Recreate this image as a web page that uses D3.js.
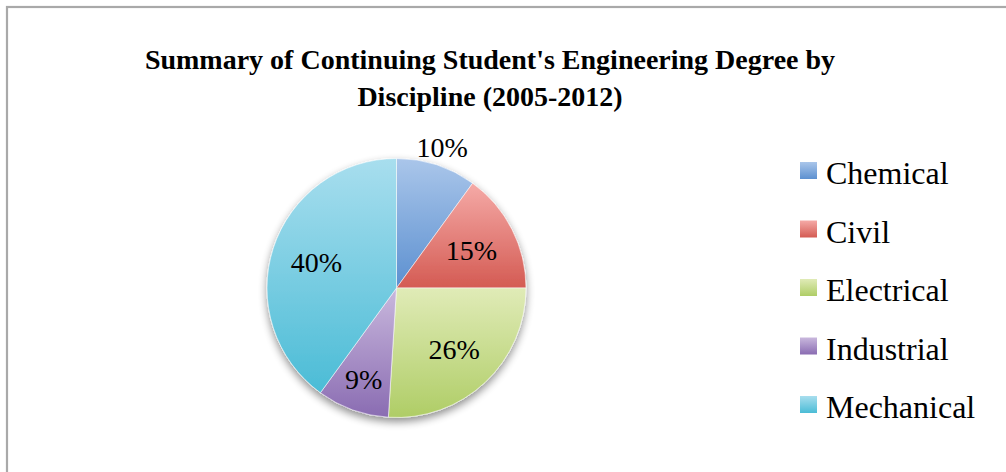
<!DOCTYPE html>
<html>
<head>
<meta charset="utf-8">
<script src="https://cdn.jsdelivr.net/npm/d3@7"></script>
<style>
  body { margin: 0; background: #fff; }
  svg { display: block; }
</style>
</head>
<body>
<svg id="chart" width="1006" height="472"></svg>
<script>
// Share of continuing students by engineering discipline (%)
const categories = ["Chemical", "Civil", "Electrical", "Industrial", "Mechanical"];
const shares = [10, 15, 26, 9, 40];

// Two-stop gradient per discipline: lighter tint at the top, base shade at the bottom
const lightColors = ["#aac6ea", "#f5aaa7", "#e0ebb7", "#c9b8dd", "#a8deee"];
const darkColors  = ["#5c90d0", "#d45b53", "#afcd66", "#8a6cb2", "#4bbcd6"];

const titleLines = ["Summary of Continuing Student's Engineering Degree by", "Discipline (2005-2012)"];

// Labels that sit beyond the rim instead of inside their wedge
const outsideLabels = new Set(["Chemical"]);

const data = categories.map((name, i) => ({ name, value: shares[i], i }));
const total = d3.sum(shares);
const pct = d3.format(".0%");

const svg = d3.select("#chart");
const defs = svg.append("defs");

data.forEach(d => {
  const g = defs.append("linearGradient")
    .attr("id", "grad" + d.i)
    .attr("x1", 0).attr("y1", 0).attr("x2", 0).attr("y2", 1);
  g.append("stop").attr("offset", "0%").attr("stop-color", lightColors[d.i]);
  g.append("stop").attr("offset", "100%").attr("stop-color", darkColors[d.i]);
});

// Soft shadow under the pie
const shadow = defs.append("filter").attr("id", "pieShadow")
  .attr("x", "-20%").attr("y", "-20%").attr("width", "140%").attr("height", "140%");
shadow.append("feGaussianBlur").attr("in", "SourceAlpha").attr("stdDeviation", 4).attr("result", "blur");
shadow.append("feOffset").attr("in", "blur").attr("dx", 0).attr("dy", 4).attr("result", "off");
shadow.append("feComponentTransfer").attr("in", "off").attr("result", "faded")
  .append("feFuncA").attr("type", "linear").attr("slope", 0.45);
const merge = shadow.append("feMerge");
merge.append("feMergeNode").attr("in", "faded");
merge.append("feMergeNode").attr("in", "SourceGraphic");

// Chart-area frame
svg.append("rect")
  .attr("x", 7).attr("y", 7).attr("width", 1200).attr("height", 700)
  .attr("fill", "none").attr("stroke", "#a9a9a9").attr("stroke-width", 2.2);

// Title
svg.append("text")
  .attr("x", 490).attr("y", 69)
  .attr("text-anchor", "middle")
  .attr("font-family", "'Liberation Serif', 'DejaVu Serif', serif")
  .attr("font-weight", "bold").attr("font-size", 28).attr("fill", "#000")
  .selectAll("tspan").data(titleLines).join("tspan")
  .attr("x", 490).attr("dy", (d, i) => i === 0 ? 0 : 37)
  .text(d => d);

// Pie
const cx = 396.5, cy = 288, radius = 129.5;
const pie = d3.pie().sort(null).value(d => d.value);
const arcs = pie(data);
const arc = d3.arc().innerRadius(0).outerRadius(radius);

const pieG = svg.append("g").attr("transform", `translate(${cx},${cy})`);
pieG.append("g").attr("filter", "url(#pieShadow)")
  .selectAll("path").data(arcs).join("path")
  .attr("d", arc)
  .attr("fill", d => `url(#grad${d.data.i})`)
  .attr("stroke", "rgba(255,255,255,0.55)")
  .attr("stroke-width", 1);

// Percentage labels
function labelRadius(d) {
  if (outsideLabels.has(d.data.name)) return radius * 1.14;
  return d.data.value / total < 0.1 ? radius * 0.75 : radius * 0.65;
}
pieG.selectAll("text.pct").data(arcs).join("text")
  .attr("class", "pct")
  .attr("transform", d => {
    const a = (d.startAngle + d.endAngle) / 2;
    const r = labelRadius(d);
    return `translate(${r * Math.sin(a)},${-r * Math.cos(a)})`;
  })
  .attr("text-anchor", "middle")
  .attr("dy", "0.35em")
  .attr("font-family", "'Liberation Serif', 'DejaVu Serif', serif")
  .attr("font-size", 28).attr("fill", "#000")
  .text(d => pct(d.data.value / total));

// Legend
const legend = svg.append("g").attr("transform", "translate(800,162)");
const item = legend.selectAll("g").data(data).join("g")
  .attr("transform", (d, i) => `translate(0,${i * 58.5})`);
item.append("rect")
  .attr("width", 17).attr("height", 17)
  .attr("fill", d => `url(#grad${d.i})`);
item.append("text")
  .attr("x", 26).attr("y", 22)
  .attr("font-family", "'Liberation Serif', 'DejaVu Serif', serif")
  .attr("font-size", 32).attr("fill", "#000")
  .text(d => d.name);
</script>
</body>
</html>
